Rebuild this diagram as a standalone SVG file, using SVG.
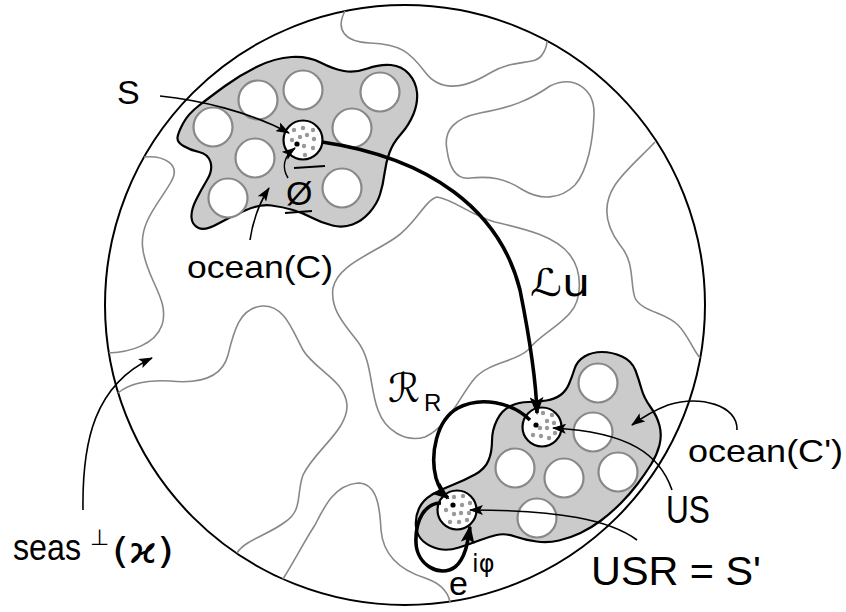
<svg xmlns="http://www.w3.org/2000/svg" xmlns:xlink="http://www.w3.org/1999/xlink" width="846" height="612" viewBox="0 0 846 612">
<style>
.bg{fill:#ffffff}
.world{fill:none;stroke:#000;stroke-width:2}
.sea{fill:none;stroke:#888;stroke-width:1.6}
.blob{fill:#cbcbcb;stroke:#000;stroke-width:2.2}
.hole{fill:#fff;stroke:#888;stroke-width:2.2}
.state{fill:#fff;stroke:#000;stroke-width:2.2}
.dot{fill:#999}
.bdot{fill:#000}
.thin{fill:none;stroke:#000;stroke-width:1.6;marker-end:url(#ah)}
.thick{fill:none;stroke:#000;stroke-width:3.6;marker-end:url(#ahb)}
.bar{stroke:#000;stroke-width:2.2;fill:none}
text{font-family:"Liberation Sans","DejaVu Sans",sans-serif;fill:#000}
.sym{font-family:"DejaVu Sans","Liberation Sans",sans-serif}
</style>
<defs>
<marker id="ah" markerUnits="userSpaceOnUse" viewBox="0 0 14 10" markerWidth="14" markerHeight="10" refX="13" refY="5" orient="auto">
<path d="M0,0 L14,5 L0,10 L3,5 Z" fill="#000"/>
</marker>
<marker id="ahb" markerUnits="userSpaceOnUse" viewBox="0 0 18 14" markerWidth="18" markerHeight="14" refX="16" refY="7" orient="auto">
<path d="M0,0 L18,7 L0,14 L4,7 Z" fill="#000"/>
</marker>
</defs>
<rect class="bg" x="0" y="0" width="846" height="612"/>

<g id="world">
<circle class="world" cx="405" cy="305" r="300"/>
</g>

<g id="seas">
<path class="sea" d="M345,11 C335,30 345,42 370,43 C400,44 410,52 425,72 C440,92 462,90 490,73 C515,58 535,66 542,55 C546,49 547,45 547,41"/>
<path class="sea" d="M447,150 C443,130 455,118 480,113 C510,108 530,100 550,86 C575,74 595,90 594,115 C593,140 588,170 575,185 C560,200 540,200 523,190 C505,178 490,176 470,178 C455,180 449,165 447,150 Z"/>
<path class="sea" d="M655,142 C640,158 625,170 615,185 C602,205 605,225 620,245 C635,262 630,285 635,298 C642,312 665,312 678,325 C688,335 693,350 700,358"/>
<path class="sea" d="M437,197 C455,200 470,215 495,222 C520,228 555,235 570,255 C583,272 582,300 570,313 C557,328 540,335 528,350 C515,362 490,362 475,378 C460,395 450,425 425,437 C405,443 385,430 378,410 C370,390 372,360 358,342 C345,325 330,310 333,288 C338,265 370,255 395,238 C415,225 425,200 437,197 Z"/>
<path class="sea" d="M144,157 C165,155 180,165 172,180 C162,200 138,222 143,250 C147,280 170,300 162,325 C155,345 130,352 109,353"/>
<path class="sea" d="M118,393 C130,383 150,380 170,381 C200,384 222,378 228,355 C234,330 240,308 262,306 C285,305 292,330 303,350 C315,370 345,380 347,405 C348,430 315,450 303,475 C296,495 303,510 285,522 C268,535 245,540 237,553"/>
<path class="sea" d="M283,579 C295,560 305,540 315,525 C325,505 335,485 358,483 C378,483 380,510 381,530 C383,555 400,570 425,578 C440,583 448,592 450,602"/>
</g>

<g id="ocean-C">
<path class="blob" d="M177.5,137.5 Q178,133 183,123.5 Q188,114 199,105.5 Q210,97 225,86 Q240,75 257.5,66.5 Q275,58 291.5,57 Q308,56 320.5,62.5 Q333,69 344,71 Q355,73 367.5,68.5 Q380,64 391,65 Q402,66 409,74 Q416,82 417,92.5 Q418,103 413.5,114 Q409,125 401,134 Q393,143 389.5,152.5 Q386,162 384.5,173.5 Q383,185 380,194.5 Q377,204 369.5,212.5 Q362,221 352.5,224.5 Q343,228 332.5,225.5 Q322,223 312.5,218 Q303,213 293,210 Q283,207 271.5,205.5 Q260,204 245,210.5 Q230,217 217.5,224 Q205,231 198.5,228 Q192,225 191.5,217.5 Q191,210 196,200 Q201,190 207,180 Q213,170 210.5,162 Q208,154 199,152 Q190,150 183.5,146 Q177,142 177.5,137.5 Z"/>
<circle class="hole" cx="213" cy="127" r="19.5"/>
<circle class="hole" cx="258" cy="100" r="19.5"/>
<circle class="hole" cx="303" cy="90" r="19.5"/>
<circle class="hole" cx="380" cy="92" r="19.5"/>
<circle class="hole" cx="352" cy="128" r="19.5"/>
<circle class="hole" cx="255" cy="158" r="19.5"/>
<circle class="hole" cx="228" cy="198" r="19.5"/>
<circle class="hole" cx="342" cy="188" r="19.5"/>
<g id="state-S">
<circle class="state" cx="303" cy="140" r="19.5"/>
<circle class="dot" cx="294" cy="130" r="2.2"/>
<circle class="dot" cx="303" cy="128" r="2.2"/>
<circle class="dot" cx="313" cy="130" r="2.2"/>
<circle class="dot" cx="292" cy="140" r="2.2"/>
<circle class="dot" cx="300" cy="137" r="2.2"/>
<circle class="dot" cx="307" cy="135" r="2.2"/>
<circle class="dot" cx="314" cy="139" r="2.2"/>
<circle class="dot" cx="304" cy="146" r="2.2"/>
<circle class="dot" cx="313" cy="148" r="2.2"/>
<circle class="dot" cx="305" cy="155" r="2.2"/>
<circle class="bdot" cx="297" cy="144" r="2.6"/>
</g>
</g>

<g id="ocean-Cp">
<path class="blob" d="M569,384 Q572,377 574.5,369 Q577,361 584.5,356.5 Q592,352 602,352 Q612,352 622,356.5 Q632,361 635.5,370.5 Q639,380 641.5,389 Q644,398 650.5,407 Q657,416 659.5,425.5 Q662,435 659.5,445 Q657,455 651,464.5 Q645,474 637.5,484 Q630,494 620.5,503.5 Q611,513 601,520.5 Q591,528 580.5,533 Q570,538 559,540.5 Q548,543 536.5,541.5 Q525,540 515,536.5 Q505,533 496.5,535 Q488,537 479,540.5 Q470,544 459,547.5 Q448,551 439,549 Q430,547 423.5,541.5 Q417,536 416,526.5 Q415,517 419,508.5 Q423,500 431.5,495 Q440,490 452.5,485 Q465,480 475,474.5 Q485,469 488.5,460.5 Q492,452 492,441 Q492,430 497,420 Q502,410 510.5,406 Q519,402 528.5,402 Q538,402 546.5,400.5 Q555,399 560.5,395 Q566,391 569,384 Z"/>
<circle class="hole" cx="598" cy="383" r="19.5"/>
<circle class="hole" cx="593" cy="432" r="19.5"/>
<circle class="hole" cx="515" cy="468" r="19.5"/>
<circle class="hole" cx="564" cy="478" r="19.5"/>
<circle class="hole" cx="618" cy="472" r="19.5"/>
<circle class="hole" cx="537" cy="518" r="19.5"/>
<g id="state-US">
<circle class="state" cx="542" cy="427" r="19.5"/>
<circle class="dot" cx="543" cy="413" r="2.2"/>
<circle class="dot" cx="552" cy="415" r="2.2"/>
<circle class="dot" cx="547" cy="421" r="2.2"/>
<circle class="dot" cx="554" cy="423" r="2.2"/>
<circle class="dot" cx="540" cy="428" r="2.2"/>
<circle class="dot" cx="547" cy="428" r="2.2"/>
<circle class="dot" cx="533" cy="435" r="2.2"/>
<circle class="dot" cx="541" cy="436" r="2.2"/>
<circle class="dot" cx="549" cy="438" r="2.2"/>
<circle class="dot" cx="555" cy="433" r="2.2"/>
<circle class="bdot" cx="536" cy="425" r="2.6"/>
</g>
<g id="state-USR">
<circle class="state" cx="457" cy="510" r="19.5"/>
<circle class="dot" cx="454" cy="497" r="2.2"/>
<circle class="dot" cx="463" cy="496" r="2.2"/>
<circle class="dot" cx="470" cy="503" r="2.2"/>
<circle class="dot" cx="446" cy="510" r="2.2"/>
<circle class="dot" cx="462" cy="505" r="2.2"/>
<circle class="dot" cx="454" cy="514" r="2.2"/>
<circle class="dot" cx="461" cy="513" r="2.2"/>
<circle class="dot" cx="469" cy="513" r="2.2"/>
<circle class="dot" cx="450" cy="522" r="2.2"/>
<circle class="dot" cx="459" cy="522" r="2.2"/>
<circle class="dot" cx="467" cy="520" r="2.2"/>
<circle class="bdot" cx="453" cy="505" r="2.6"/>
</g>
</g>

<g id="connectors">
<path class="thin" d="M160,96 C200,100 250,112 289,133"/>
<path class="thin" d="M288,178 C282,168 283,157 295,148"/>
<path class="thin" d="M250,240 C253,220 258,205 269,188"/>
<path class="thin" d="M83,510 C82,440 95,385 152,358"/>
<path class="thin" d="M737,430 C738,405 700,395 668,405 C655,410 643,417 632,425"/>
<path class="thin" d="M672,490 C660,455 630,432 553,428"/>
<path class="thin" d="M637,540 C610,520 560,510 470,510"/>
<path class="thick" d="M322,142 C430,158 500,210 520,290 C530,340 536,380 537,413"/>
<path class="thick" d="M530,420 C512,402 480,396 458,408 C436,420 430,455 436,478 C439,488 443,494 448,498"/>
<path class="thick" d="M441,503 C425,503 415,520 416,543 C417,565 440,578 455,567 C466,558 468,540 470,527"/>
</g>

<g id="labels">
<text x="117" y="104" font-size="34">S</text>
<text x="187" y="278" font-size="32" textLength="146" lengthAdjust="spacingAndGlyphs">ocean(C)</text>
<g id="phi-bar">
<text x="286" y="205" font-size="34">Ø</text>
<line class="bar" x1="294" y1="168" x2="325" y2="166"/>
<line class="bar" x1="285" y1="213" x2="312" y2="211"/>
</g>
<text class="sym" x="530" y="296" font-size="38" textLength="60" lengthAdjust="spacingAndGlyphs">ℒu</text>
<text class="sym" x="388" y="402" font-size="40">ℛ</text>
<text x="424" y="411" font-size="24">R</text>
<text x="688" y="462" font-size="32" textLength="155" lengthAdjust="spacingAndGlyphs">ocean(C')</text>
<text x="666" y="523" font-size="38" textLength="44" lengthAdjust="spacingAndGlyphs">US</text>
<text x="591" y="585" font-size="40" textLength="170" lengthAdjust="spacingAndGlyphs">USR = S'</text>
<text x="13" y="560" font-size="36" textLength="68" lengthAdjust="spacingAndGlyphs">seas</text>
<text class="sym" x="90" y="545" font-size="22">⊥</text>
<text class="sym" x="112" y="563" font-size="36" textLength="62" lengthAdjust="spacingAndGlyphs">(ϰ)</text>
<text x="449" y="595" font-size="34">e</text>
<text class="sym" x="472" y="572" font-size="24">iφ</text>
</g>
</svg>
